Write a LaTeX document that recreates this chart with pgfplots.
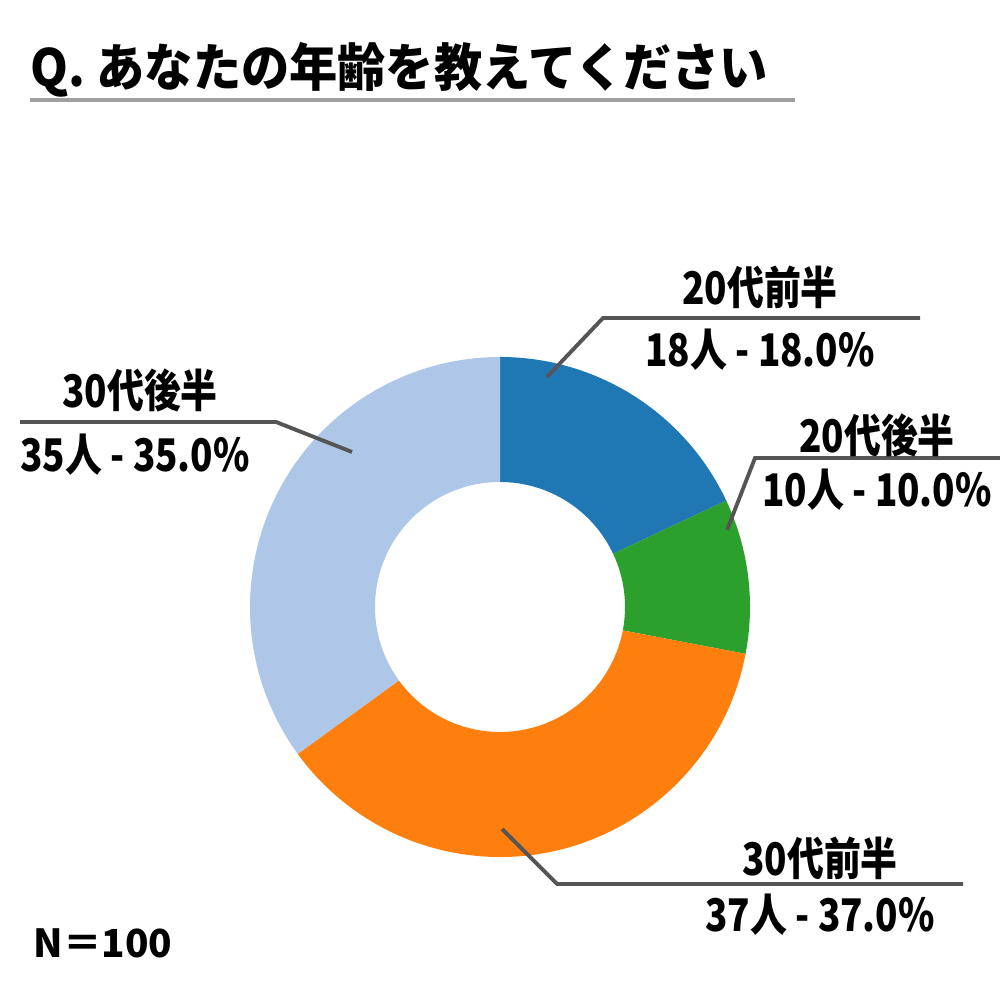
\documentclass[border=0pt]{standalone}
\usepackage{pgfplots}
\usepackage{pgfplotstable}
\pgfplotsset{compat=1.18}
\usetikzlibrary{calc}
\usepackage{fontspec}
\newfontfamily\jp{Noto Sans CJK JP}
\newfontfamily\jptitle{Noto Sans CJK JP}[FakeStretch=0.94]
\newfontfamily\jplab{Noto Sans CJK JP}[FakeStretch=0.82]
\definecolor{c0}{HTML}{1F77B4}
\definecolor{c1}{HTML}{2CA02C}
\definecolor{c2}{HTML}{FF7F0E}
\definecolor{c3}{HTML}{AEC7E8}
\definecolor{leader}{HTML}{555555}
\definecolor{uline}{HTML}{A0A0A0}

\pgfplotstableread{
idx count
0 18
1 10
2 37
3 35
}\datatable
\pgfplotstablecreatecol[create col/expr accum={\pgfmathaccuma + \thisrow{count}}{0}]{cum}\datatable

\begin{document}
\begin{tikzpicture}
\begin{axis}[
  at={(0,0)}, anchor=south west,
  scale only axis, width=10cm, height=10cm,
  xmin=0, xmax=1000, ymin=0, ymax=1000,
  hide axis, clip=false]
\pgfplotsextra{
  \foreach \i in {0,...,3}{
    \pgfplotstablegetelem{\i}{count}\of\datatable \let\cnt\pgfplotsretval
    \pgfplotstablegetelem{\i}{cum}\of\datatable \let\cum\pgfplotsretval
    \pgfmathsetmacro\aS{90-3.6*(\cum-\cnt)}
    \pgfmathsetmacro\aE{90-3.6*\cum}
    \fill[c\i] (axis cs:500,393) ++(\aS:2.5cm) arc[start angle=\aS, end angle=\aE, radius=2.5cm]
      -- ($(axis cs:500,393)+(\aE:1.25cm)$) arc[start angle=\aE, end angle=\aS, radius=1.25cm] -- cycle;
  }
}
% title
\node[anchor=west, inner sep=0pt, font=\jptitle\bfseries\fontsize{14.6}{16}\selectfont] at (axis cs:30,930) {Q. あなたの年齢を教えてください};
\draw[uline, line width=1.4pt] (axis cs:30,900) -- (axis cs:795,900);
% leader lines
\draw[leader, line width=1.1pt] (axis cs:547,623) -- (axis cs:603,682) -- (axis cs:920,682);
\draw[leader, line width=1.1pt] (axis cs:727,470) -- (axis cs:755,542) -- (axis cs:1000,542);
\draw[leader, line width=1.1pt] (axis cs:20,578) -- (axis cs:276,578) -- (axis cs:352,548);
\draw[leader, line width=1.1pt] (axis cs:502,171) -- (axis cs:557,116) -- (axis cs:963,116);
% labels
\tikzset{lab/.style={inner sep=0pt, font=\jplab\bfseries\fontsize{12.8}{14}\selectfont}}
\node[lab] at (axis cs:760,713) {20代前半};
\node[lab] at (axis cs:760,650) {18人 - 18.0\%};
\node[lab] at (axis cs:877,565) {20代後半};
\node[lab] at (axis cs:877,510) {10人 - 10.0\%};
\node[lab] at (axis cs:140,610) {30代後半};
\node[lab] at (axis cs:135,545) {35人 - 35.0\%};
\node[lab] at (axis cs:820,142) {30代前半};
\node[lab] at (axis cs:820,85) {37人 - 37.0\%};
\node[anchor=west, inner sep=0pt, font=\jp\bfseries\fontsize{11}{13}\selectfont] at (axis cs:33,57) {N＝100};
\end{axis}
\pgfresetboundingbox
\path (0,0) rectangle (10cm,10cm);
\end{tikzpicture}
\end{document}
